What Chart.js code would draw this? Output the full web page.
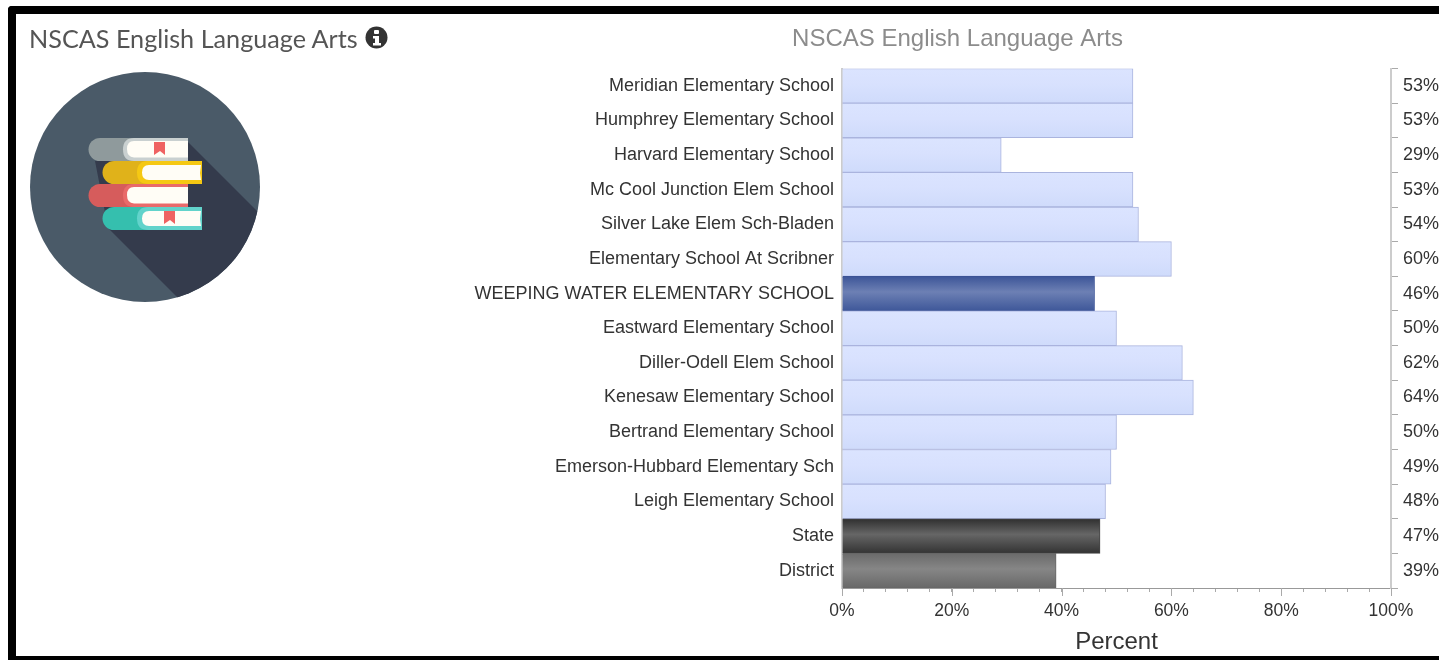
<!DOCTYPE html>
<html><head><meta charset="utf-8">
<script src="https://cdn.jsdelivr.net/npm/chart.js@4"></script>
<style>
html,body{margin:0;padding:0;background:#fff;width:1439px;height:660px;overflow:hidden}
#frame{position:absolute;left:8px;top:6px;width:1431px;height:654px;box-sizing:border-box;border:8px solid #000;border-right:none;border-bottom-width:4px;border-top-left-radius:4px}
#c{position:absolute;left:0;top:0;filter:blur(.35px)}
#head{position:absolute;left:29px;top:21px;font:25.2px/34px Lato,sans-serif;color:#555;white-space:nowrap;filter:blur(.3px)}
#info{position:absolute;left:365px;top:26px}
#icon{position:absolute;left:28px;top:71px;filter:blur(.4px)}
</style></head><body>
<canvas id="c" width="1439" height="660"></canvas>
<div id="frame"></div>
<div id="head">NSCAS English Language Arts</div>
<svg id="info" width="23" height="23" viewBox="0 0 23 23"><circle cx="11.5" cy="11.5" r="11" fill="#333"/><rect x="9" y="4" width="5" height="4" rx="1" fill="#fff"/><path d="M8 10h6v7h2v2.500H8V17h2v-4.500H8z" fill="#fff"/></svg>
<svg id="icon" width="234" height="234" viewBox="28 71 234 234">
<defs><clipPath id="cc"><circle cx="145" cy="187" r="115"/></clipPath></defs>
<circle cx="145" cy="187" r="115" fill="#4a5a68"/>
<polygon clip-path="url(#cc)" points="186,140 290,244 290,330 210,330 108,228 95,161 188,150" fill="#343b4c"/>
<g>
<path d="M100 138H188V161H100a11.500 11.500 0 0 1 0-23z" fill="#8f9a9c"/>
<path d="M188 138H134q-11 0-11 11.500t11 11.500H188z" fill="#c9d0d0"/>
<path d="M188 141H134q-7 0-7 8t7 8.500H188z" fill="#fffdf6"/>
<path d="M154 142h11v13l-5-4-6 4z" fill="#ef6262"/>
<path d="M114 161H202V184H114a11.500 11.500 0 0 1 0-23z" fill="#e0b21a"/>
<path d="M202 161H148q-11 0-11 11.500t11 11.500H202z" fill="#f5c813"/>
<path d="M201 165H149q-7 0-7 7.500t7 7.500H201l-1-7z" fill="#fffdf6"/>
<path d="M100 184H188V207H100a11.500 11.500 0 0 1 0-23z" fill="#d65c5c"/>
<path d="M188 184H134q-11 0-11 11.500t11 11.500H188z" fill="#e96a6a"/>
<path d="M188 187H134q-7 0-7 8t7 8.500H188z" fill="#fffdf6"/>
<path d="M114 207H202V230H114a11.500 11.500 0 0 1 0-23z" fill="#35bfae"/>
<path d="M202 207H148q-11 0-11 11.500t11 11.500H202z" fill="#62d3cb"/>
<path d="M201 211H149q-7 0-7 7.500t7 7.500H201l-1-7z" fill="#fffdf6"/>
<path d="M164 211h11v13l-5-4-6 4z" fill="#ef6262"/>
</g></svg>
<script>
const categories = ["Meridian Elementary School","Humphrey Elementary School","Harvard Elementary School","Mc Cool Junction Elem School","Silver Lake Elem Sch-Bladen","Elementary School At Scribner","WEEPING WATER ELEMENTARY SCHOOL","Eastward Elementary School","Diller-Odell Elem School","Kenesaw Elementary School","Bertrand Elementary School","Emerson-Hubbard Elementary Sch","Leigh Elementary School","State","District"];
const values = [53,53,29,53,54,60,46,50,62,64,50,49,48,47,39];
const chartTitle = "NSCAS English Language Arts";
const axisTitle = "Percent";

const TXT = "#333";
const FONT = "'Liberation Sans', Arial, sans-serif";
function palette(name){
  if(name==="State") return {stops:["#2f2f2f","#666666","#333333"],border:"#444444"};
  if(name==="District") return {stops:["#6a6a6a","#868686","#686868"],border:"#666666"};
  if(name===name.toUpperCase()) return {stops:["#3c5598","#6d80b4","#3e5799"],border:"#3a5295"};
  return {stops:["#dbe4ff","#d8e1fe","#cfdbfb"],border:"#aab4de"};
}
function fill(c){
  const chart=c.chart, sc=chart.scales.y, name=categories[c.dataIndex], p=palette(name);
  if(!sc||sc.height===undefined) return p.stops[1];
  const y=sc.getPixelForValue(c.dataIndex), h=sc.height/categories.length/2;
  const g=chart.ctx.createLinearGradient(0,y-h,0,y+h);
  g.addColorStop(0,p.stops[0]);g.addColorStop(.45,p.stops[1]);g.addColorStop(1,p.stops[2]);
  return g;
}
const decorations={id:"decorations",afterDraw(chart){
  const s=chart.scales.x,ctx=chart.ctx;
  ctx.save();ctx.strokeStyle="#aaaaaa";ctx.lineWidth=1;
  s.ticks.forEach(t=>{ if(t.value%20===0){
    const x=Math.round(s.getPixelForValue(t.value))+.5;
    ctx.beginPath();ctx.moveTo(x,s.top);ctx.lineTo(x,s.top+8);ctx.stroke();
  }});
  ctx.fillStyle="#8c8c8c";ctx.font="24px "+FONT;ctx.textAlign="center";ctx.textBaseline="middle";
  ctx.fillText(chartTitle,957.5,39.5);
  ctx.restore();
}};
new Chart(document.getElementById("c"),{
  type:"bar",
  plugins:[decorations],
  data:{labels:categories,datasets:[{data:values,backgroundColor:fill,
    borderColor:c=>palette(categories[c.dataIndex]).border,borderWidth:1,borderSkipped:"left",
    barPercentage:1,categoryPercentage:1}]},
  options:{
    indexAxis:"y",responsive:false,animation:false,
    layout:{padding:{top:68.500}},
    plugins:{legend:{display:false},tooltip:{enabled:false},title:{display:false}},
    scales:{
      x:{min:0,max:100,position:"bottom",
        afterFit:s=>{s.height=72},
        ticks:{stepSize:4,autoSkip:false,maxRotation:0,color:TXT,padding:9,font:{family:FONT,size:17.5},
          callback:v=>v%20===0?v+"%":""},
        grid:{drawOnChartArea:false,tickLength:4,tickColor:"#aaaaaa"},
        border:{color:"#999999",width:1},
        title:{display:true,text:axisTitle,color:TXT,font:{family:FONT,size:24,weight:"normal",lineHeight:1.2},padding:{top:0,bottom:3.600}}},
      y:{position:"left",
        afterFit:s=>{s.width=842},
        ticks:{color:TXT,padding:8,autoSkip:false,font:{family:FONT,size:18}},
        grid:{display:false,tickLength:0,drawTicks:false},
        border:{color:"#cccccc",width:2}},
      y2:{type:"category",position:"right",labels:values.map(v=>v+"%"),offset:true,
        afterFit:s=>{s.width=48},
        ticks:{color:TXT,padding:5,autoSkip:false,font:{family:FONT,size:18}},
        grid:{drawOnChartArea:false,offset:true,tickLength:7,tickColor:"#aaaaaa"},
        border:{color:"#cccccc",width:2}}
    }
  }
});
</script>
</body></html>
